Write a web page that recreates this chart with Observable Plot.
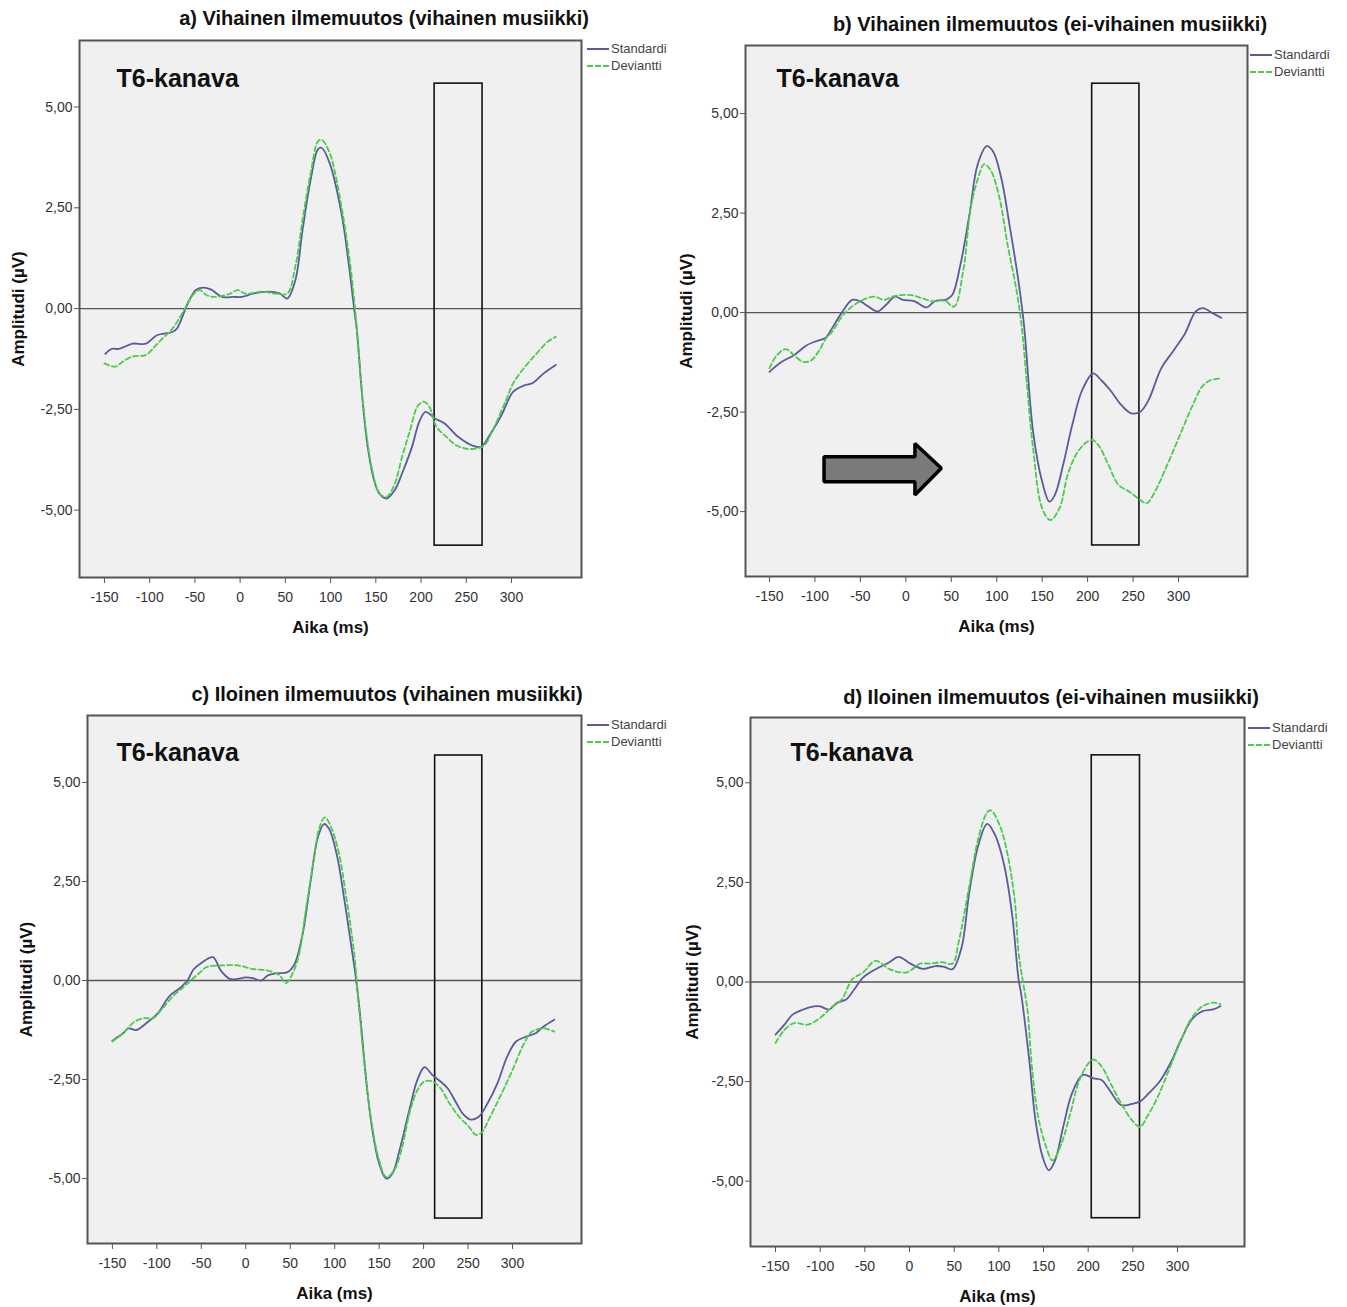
<!DOCTYPE html>
<html>
<head>
<meta charset="utf-8">
<script src="https://cdn.jsdelivr.net/npm/d3@7"></script>
<script src="https://cdn.jsdelivr.net/npm/@observablehq/plot@0.6"></script>
<style>
  html, body { margin: 0; padding: 0; background: #fff; }
  #root { position: relative; width: 1347px; height: 1307px; overflow: hidden; font-family: "Liberation Sans", Arial, sans-serif; }
  .title { position: absolute; width: 700px; text-align: center; font-weight: bold; font-size: 20px; color: #111; line-height: 1; white-space: nowrap; }
  .panel { position: absolute; }
  .legend { position: absolute; font-size: 13px; color: #444; line-height: 1; }
  .legend .row { display: flex; align-items: center; height: 17px; }
  .legend .sw { width: 22px; height: 0; margin-right: 2px; }
</style>
</head>
<body>
<div id="root"></div>
<script>
// ---------- data ----------
const xTicks = [-150, -100, -50, 0, 50, 100, 150, 200, 250, 300];
const yTicks = [-5, -2.5, 0, 2.5, 5];
const seriesNames = ["Standardi", "Deviantti"];
const channelLabel = "T6-kanava";
const xLabel = "Aika (ms)";
const yLabel = "Amplitudi (µV)";
const titles = [
  "a) Vihainen ilmemuutos (vihainen musiikki)",
  "b) Vihainen ilmemuutos (ei-vihainen musiikki)",
  "c) Iloinen ilmemuutos (vihainen musiikki)",
  "d) Iloinen ilmemuutos (ei-vihainen musiikki)"
];

// [time ms, amplitude µV]
const stdA = [[-149,-1.12],[-142,-1.0],[-134,-1.0],[-119,-0.87],[-104,-0.87],[-92,-0.66],[-75,-0.58],[-70,-0.5],[-58,0.12],[-49,0.46],[-41,0.52],[-32,0.47],[-20,0.29],[-7,0.29],[2,0.29],[14,0.37],[31,0.42],[44,0.37],[52,0.25],[61,0.7],[69,1.95],[78,3.2],[86,3.95],[90,3.99],[99,3.61],[112,2.37],[120,1.12],[126,0.0],[129,-0.53],[135,-2.19],[141,-3.43],[148,-4.25],[154,-4.59],[162,-4.71],[171,-4.5],[179,-4.09],[190,-3.43],[198,-2.81],[205,-2.56],[215,-2.72],[226,-2.85],[241,-3.18],[256,-3.39],[266,-3.43],[277,-3.1],[289,-2.64],[302,-2.06],[315,-1.9],[323,-1.85],[336,-1.6],[349,-1.4]];
const devA = [[-150,-1.36],[-138,-1.44],[-130,-1.32],[-119,-1.19],[-104,-1.15],[-96,-0.98],[-88,-0.79],[-75,-0.5],[-62,-0.04],[-54,0.29],[-45,0.46],[-37,0.33],[-28,0.29],[-11,0.37],[-3,0.46],[6,0.37],[23,0.42],[40,0.37],[52,0.37],[61,1.04],[69,2.2],[78,3.36],[86,4.15],[90,4.19],[99,3.86],[112,2.53],[122,1.04],[127,0.0],[130,-0.8],[134,-1.9],[139,-3.01],[146,-4.0],[154,-4.59],[162,-4.67],[171,-4.34],[179,-3.68],[188,-3.01],[196,-2.43],[203,-2.31],[209,-2.43],[217,-2.93],[228,-3.18],[239,-3.39],[249,-3.47],[262,-3.47],[270,-3.39],[281,-2.93],[294,-2.27],[302,-1.85],[315,-1.44],[328,-1.11],[340,-0.82],[349,-0.7]];

const stdB = [[-150,-1.49],[-137,-1.24],[-123,-1.07],[-109,-0.82],[-95,-0.69],[-88,-0.63],[-81,-0.39],[-71,-0.02],[-59,0.32],[-50,0.28],[-41,0.15],[-31,0.03],[-22,0.19],[-12,0.4],[-3,0.32],[9,0.29],[23,0.13],[32,0.29],[44,0.32],[51,0.44],[60,1.2],[70,2.46],[79,3.72],[89,4.18],[96,4.05],[105,3.38],[114,2.21],[124,0.78],[130,-0.31],[140,-2.99],[150,-4.25],[158,-4.75],[164,-4.58],[173,-3.83],[183,-2.83],[194,-1.95],[206,-1.53],[215,-1.7],[225,-1.95],[237,-2.32],[248,-2.53],[258,-2.49],[267,-2.2],[281,-1.4],[295,-0.94],[307,-0.53],[319,0.03],[327,0.11],[338,-0.02],[347,-0.13]];
const devB = [[-150,-1.4],[-142,-1.07],[-132,-0.92],[-123,-1.07],[-113,-1.24],[-104,-1.2],[-95,-0.94],[-88,-0.65],[-81,-0.48],[-69,-0.06],[-57,0.19],[-43,0.36],[-34,0.4],[-24,0.32],[-15,0.4],[-5,0.44],[6,0.44],[18,0.36],[30,0.28],[42,0.32],[53,0.15],[63,1.03],[72,2.71],[82,3.55],[86,3.73],[93,3.59],[103,2.88],[112,1.7],[122,0.53],[128,-0.45],[133,-1.74],[140,-3.41],[150,-4.92],[159,-5.21],[169,-4.92],[178,-4.08],[187,-3.58],[197,-3.29],[205,-3.2],[213,-3.37],[223,-3.83],[234,-4.33],[246,-4.5],[258,-4.71],[265,-4.79],[274,-4.5],[286,-3.91],[300,-3.16],[314,-2.41],[326,-1.86],[335,-1.7],[345,-1.66]];

const stdC = [[-150,-1.52],[-138,-1.33],[-132,-1.21],[-123,-1.25],[-112,-1.08],[-99,-0.83],[-86,-0.4],[-74,-0.19],[-65,0.02],[-59,0.27],[-50,0.44],[-37,0.59],[-28,0.25],[-18,0.04],[-9,0.04],[0,0.08],[8,0.06],[17,0.0],[25,0.13],[34,0.18],[47,0.21],[55,0.42],[64,1.18],[73,2.52],[81,3.61],[88,3.95],[94,3.82],[103,3.11],[111,2.02],[120,0.67],[124,0.04],[128,-0.74],[137,-2.85],[143,-3.86],[150,-4.62],[158,-5.0],[165,-4.87],[173,-4.28],[184,-3.27],[193,-2.51],[201,-2.19],[210,-2.39],[219,-2.55],[227,-2.72],[236,-3.06],[244,-3.36],[253,-3.51],[262,-3.44],[272,-3.1],[283,-2.6],[294,-1.92],[304,-1.54],[315,-1.42],[326,-1.33],[335,-1.16],[347,-0.99]];
const devC = [[-150,-1.54],[-138,-1.33],[-125,-1.04],[-114,-0.95],[-104,-0.95],[-95,-0.74],[-82,-0.4],[-69,-0.15],[-61,0.02],[-52,0.19],[-44,0.34],[-26,0.38],[-9,0.38],[8,0.29],[25,0.25],[38,0.13],[45,-0.07],[53,0.19],[60,0.67],[68,1.85],[77,3.11],[83,3.87],[89,4.12],[96,3.87],[105,3.19],[113,2.1],[122,0.67],[126,-0.32],[133,-2.0],[141,-3.52],[150,-4.54],[158,-4.96],[167,-4.79],[176,-4.2],[184,-3.36],[193,-2.77],[201,-2.55],[210,-2.55],[219,-2.72],[229,-3.1],[240,-3.44],[251,-3.69],[259,-3.9],[266,-3.82],[274,-3.48],[287,-2.89],[300,-2.26],[313,-1.59],[322,-1.29],[335,-1.21],[347,-1.29]];

const stdD = [[-150,-1.32],[-140,-1.07],[-131,-0.82],[-119,-0.69],[-107,-0.61],[-100,-0.61],[-90,-0.69],[-81,-0.52],[-71,-0.44],[-62,-0.19],[-52,0.11],[-38,0.32],[-23,0.49],[-12,0.63],[1,0.46],[15,0.33],[29,0.4],[39,0.38],[48,0.32],[58,0.84],[67,2.26],[77,3.43],[87,3.97],[96,3.68],[106,2.93],[115,1.67],[122,0.08],[125,-0.3],[134,-1.95],[141,-3.47],[149,-4.39],[156,-4.73],[163,-4.48],[172,-3.64],[182,-2.79],[194,-2.33],[206,-2.42],[215,-2.46],[225,-2.75],[237,-3.09],[249,-3.06],[258,-3.0],[268,-2.79],[280,-2.5],[292,-2.04],[304,-1.45],[316,-0.94],[328,-0.73],[340,-0.69],[348,-0.61]];
const devD = [[-150,-1.53],[-140,-1.2],[-129,-1.03],[-114,-1.07],[-100,-0.9],[-88,-0.65],[-76,-0.44],[-64,0.07],[-52,0.24],[-38,0.53],[-23,0.33],[-12,0.25],[-2,0.25],[12,0.46],[24,0.46],[36,0.5],[48,0.46],[55,1.0],[67,2.42],[77,3.6],[87,4.26],[91,4.31],[101,3.93],[110,3.18],[118,2.0],[122,0.75],[127,0.0],[132,-0.69],[137,-2.12],[144,-3.38],[153,-4.14],[160,-4.48],[170,-4.06],[180,-3.3],[189,-2.54],[199,-2.08],[206,-1.95],[215,-2.12],[225,-2.54],[237,-3.05],[249,-3.47],[258,-3.64],[266,-3.38],[278,-2.88],[292,-2.12],[304,-1.45],[316,-0.9],[328,-0.61],[340,-0.52],[348,-0.56]];

// analysis windows (ms, µV)
const boxA = [{x1: 215, x2: 268, y1: -5.88, y2: 5.58}];
const boxB = [{x1: 205, x2: 257, y1: -5.85, y2: 5.75}];
const boxC = [{x1: 213, x2: 266, y1: -6.01, y2: 5.68}];
const boxD = [{x1: 204, x2: 258, y1: -5.93, y2: 5.69}];

// block arrow annotation in panel b (ms, µV)
const arrowB = [[-90,-3.62],[10,-3.62],[10,-3.29],[39,-3.91],[10,-4.58],[10,-4.25],[-90,-4.25]];

// ---------- layout ----------
const STD_COLOR = "#5b5b9c";
const DEV_COLOR = "#48cd48";
const DEV_DASH = "5,3";

const panels = [
  {std: stdA, dev: devA, box: boxA, title: titles[0], left: 0, top: 30, width: 600, ml: 79, mr: 19, frameH: 537,
   xd: [-177.6, 377.4], yd: [-6.67, 6.65], chan: [37, 38], ylx: -61, titleC: [384, 18], leg: [587, 40]},
  {std: stdB, dev: devB, box: boxB, title: titles[1], left: 667, top: 35, width: 680, ml: 78, mr: 100, frameH: 531,
   xd: [-176.4, 375.9], yd: [-6.63, 6.71], chan: [31, 33], ylx: -59, titleC: [1050, 24], leg: [1250, 46], arrow: arrowB},
  {std: stdC, dev: devC, box: boxC, title: titles[2], left: 0, top: 705, width: 600, ml: 87, mr: 19, frameH: 528,
   xd: [-178, 377.6], yd: [-6.64, 6.69], chan: [29, 37], ylx: -61, titleC: [387, 694], leg: [587, 716]},
  {std: stdD, dev: devD, box: boxD, title: titles[3], left: 667, top: 707, width: 680, ml: 83, mr: 103, frameH: 529,
   xd: [-178, 375], yd: [-6.64, 6.64], chan: [40, 35], ylx: -58, titleC: [1051, 697], leg: [1248, 719]}
];

const toRows = (arr) => arr.map(([t, v]) => ({t, v}));
const fmtY = (d) => d.toFixed(2).replace(".", ",").replace("\u2212", "-");

const root = document.getElementById("root");

for (const p of panels) {
  const MT = 10, MB = 70;
  const marks = [
    Plot.frame({fill: "#f0f0f0", stroke: null}),
    Plot.ruleY([0], {stroke: "#555", strokeWidth: 1.3}),
    Plot.rect(p.box, {x1: "x1", x2: "x2", y1: "y1", y2: "y2", fill: "none", stroke: "#111", strokeWidth: 1.6}),
    Plot.line(toRows(p.std), {x: "t", y: "v", stroke: STD_COLOR, strokeWidth: 1.8, curve: "catmull-rom"}),
    Plot.line(toRows(p.dev), {x: "t", y: "v", stroke: DEV_COLOR, strokeWidth: 1.8, strokeDasharray: DEV_DASH, curve: "catmull-rom"}),
    Plot.text([channelLabel], {frameAnchor: "top-left", dx: p.chan[0], dy: p.chan[1], textAnchor: "start", lineAnchor: "middle", fontWeight: "bold", fontSize: 25, fill: "#111"}),
    Plot.frame({stroke: "#555", strokeWidth: 2}),
    Plot.axisX({ticks: xTicks, tickSize: 6, tickPadding: 9, tickFormat: (d) => String(d), label: null, fontSize: 14, stroke: "#555"}),
    Plot.axisY({ticks: yTicks, tickSize: 5, tickPadding: 2, tickFormat: fmtY, label: null, fontSize: 14, stroke: "#555"}),
    Plot.text([xLabel], {frameAnchor: "bottom", dy: 50, textAnchor: "middle", lineAnchor: "middle", fontWeight: "bold", fontSize: 17, fill: "#111"}),
    Plot.text([yLabel], {frameAnchor: "left", dx: p.ylx, rotate: -90, textAnchor: "middle", lineAnchor: "middle", fontWeight: "bold", fontSize: 17, fill: "#111"})
  ];
  if (p.arrow) {
    marks.splice(5, 0, Plot.line(toRows(p.arrow), {x: "t", y: "v", fill: "#7a7a7a", stroke: "#000", strokeWidth: 3.5, curve: "linear-closed", strokeLinejoin: "miter"}));
  }
  const chart = Plot.plot({
    width: p.width,
    height: MT + p.frameH + MB,
    marginLeft: p.ml, marginRight: p.mr, marginTop: MT, marginBottom: MB,
    style: {fontFamily: "'Liberation Sans', Arial, sans-serif", color: "#333", background: "transparent", overflow: "visible"},
    x: {domain: p.xd},
    y: {domain: p.yd},
    marks
  });
  const holder = document.createElement("div");
  holder.className = "panel";
  holder.style.left = p.left + "px";
  holder.style.top = p.top + "px";
  holder.appendChild(chart);
  root.appendChild(holder);

  const t = document.createElement("div");
  t.className = "title";
  t.textContent = p.title;
  t.style.left = (p.titleC[0] - 350) + "px";
  t.style.top = (p.titleC[1] - 10) + "px";
  root.appendChild(t);

  const lg = document.createElement("div");
  lg.className = "legend";
  lg.style.left = p.leg[0] + "px";
  lg.style.top = p.leg[1] + "px";
  seriesNames.forEach((name, i) => {
    const row = document.createElement("div");
    row.className = "row";
    const sw = document.createElement("span");
    sw.className = "sw";
    sw.style.borderTop = i === 0 ? `2px solid ${STD_COLOR}` : `2px dashed ${DEV_COLOR}`;
    const tx = document.createElement("span");
    tx.textContent = name;
    row.appendChild(sw);
    row.appendChild(tx);
    lg.appendChild(row);
  });
  root.appendChild(lg);
}
</script>
</body>
</html>
